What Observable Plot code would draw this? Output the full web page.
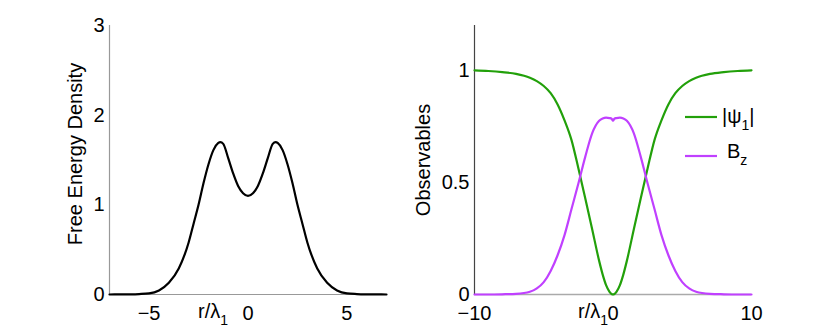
<!DOCTYPE html>
<html><head><meta charset="utf-8">
<script src="https://cdn.jsdelivr.net/npm/d3@7"></script>
<script src="https://cdn.jsdelivr.net/npm/@observablehq/plot@0.6"></script>
<style>
body{margin:0;background:#fff;}
#wrap{position:relative;width:830px;height:332px;display:flex;background:#fff;}
#wrap svg{display:block;}
</style></head><body><div id="wrap"></div>
<script>
// Left panel: free energy density
const feX = [-7,-6.5,-6,-5.5,-5,-4.5,-4,-3.5,-3,-2.75,-2.5,-2.25,-2,-1.75,-1.5,-1.4,-1.25,-1,-0.75,-0.5,-0.25,0,
             0.25,0.5,0.75,1,1.25,1.4,1.5,1.75,2,2.25,2.5,2.75,3,3.5,4,4.5,5,5.5,6,6.5,7];
const feY = [0,0.001,0.002,0.005,0.012,0.045,0.13,0.29,0.58,0.79,1.0,1.24,1.45,1.61,1.69,1.70,1.68,1.52,1.35,1.21,1.13,1.10,
             1.13,1.21,1.35,1.52,1.68,1.70,1.69,1.61,1.45,1.24,1.0,0.79,0.58,0.29,0.13,0.045,0.012,0.005,0.002,0.001,0];
const feXTicks = [-5,0,5];
const feYTicks = [0,1,2,3];

// Right panel: observables
const obsX = [-10,-9,-8,-7,-6,-5.5,-5,-4.5,-4,-3.5,-3,-2.5,-2,-1.5,-1,-0.75,-0.5,-0.25,-0.1,0,
              0.1,0.25,0.5,0.75,1,1.5,2,2.5,3,3.5,4,4.5,5,5.5,6,7,8,9,10];
const psiY = [1.0,0.997,0.992,0.984,0.967,0.952,0.93,0.898,0.848,0.777,0.69,0.563,0.428,0.29,0.15,0.09,0.042,0.012,0.002,0,
              0.002,0.012,0.042,0.09,0.15,0.29,0.428,0.563,0.69,0.777,0.848,0.898,0.93,0.952,0.967,0.984,0.992,0.997,1.0];
const bzY  = [0,0,0.001,0.003,0.012,0.027,0.055,0.105,0.175,0.265,0.38,0.495,0.615,0.72,0.775,0.785,0.789,0.787,0.784,0.775,
              0.784,0.787,0.789,0.785,0.775,0.72,0.615,0.495,0.38,0.265,0.175,0.105,0.055,0.027,0.012,0.003,0.001,0,0];
const obsXTicks = [-10,0,10];
const obsYTicks = [0,0.5,1];
const seriesNames = ["|ψ1|","Bz"];
const seriesColors = ["#22a00a","#c040ff"];

const FONT = "'Liberation Sans', Arial, sans-serif";
const fe = feX.map((x,i)=>({x, y: feY[i]}));
const obs = [];
obsX.forEach((x,i)=>{ obs.push({x, y: psiY[i], s: seriesNames[0]}); });
obsX.forEach((x,i)=>{ obs.push({x, y: bzY[i], s: seriesNames[1]}); });

const fmt = d => (d < 0 ? "\u2212" : "") + Math.abs(d);

const left = Plot.plot({
  width: 415, height: 332,
  marginLeft: 109, marginRight: 29, marginTop: 25, marginBottom: 38,
  style: {fontFamily: FONT, fontSize: "20px", color: "#000", background: "white", overflow: "visible"},
  x: {domain: [-7,7]},
  y: {domain: [0,3]},
  marks: [
    Plot.axisX({ticks: feXTicks, tickSize: 0, tickPadding: 11, label: null, tickFormat: fmt, fontSize: 20}),
    Plot.axisY({ticks: feYTicks, tickSize: 0, tickPadding: 5, label: null, tickFormat: fmt, fontSize: 20}),
    Plot.ruleY([0], {stroke: "#999", strokeWidth: 1.2}),
    Plot.ruleX([-7], {stroke: "#999", strokeWidth: 1.2}),
    Plot.line(fe, {x: "x", y: "y", curve: "monotone-x", stroke: "black", strokeWidth: 2.2})
  ]
});

const right = Plot.plot({
  width: 415, height: 332,
  marginLeft: 59, marginRight: 79, marginTop: 25, marginBottom: 38,
  style: {fontFamily: FONT, fontSize: "20px", color: "#000", background: "white", overflow: "visible"},
  x: {domain: [-10,10]},
  y: {domain: [0,1.2]},
  color: {domain: seriesNames, range: seriesColors},
  marks: [
    Plot.axisX({ticks: obsXTicks, tickSize: 0, tickPadding: 11, label: null, tickFormat: fmt, fontSize: 20}),
    Plot.axisY({ticks: obsYTicks, tickSize: 0, tickPadding: 5, label: null, tickFormat: fmt, fontSize: 20}),
    Plot.ruleY([0], {stroke: "#aaa", strokeWidth: 1.6}),
    Plot.ruleX([-10], {stroke: "#444", strokeWidth: 1.2}),
    Plot.line(obs, {x: "x", y: "y", z: "s", stroke: "s", curve: "monotone-x", strokeWidth: 2.2})
  ]
});

const wrap = document.getElementById("wrap");
wrap.appendChild(left);
wrap.appendChild(right);

function yLabel(svg, text, cx, cy) {
  d3.select(svg).append("text")
    .attr("transform", `translate(${cx},${cy}) rotate(-90)`)
    .attr("text-anchor", "middle").attr("dominant-baseline", "central")
    .attr("font-family", FONT).attr("font-size", 20).attr("fill", "#000")
    .text(text);
}
function subText(sel, x, y, main, sub, tail) {
  const t = sel.append("text").attr("x", x).attr("y", y)
    .attr("text-anchor", "start")
    .attr("font-family", FONT).attr("font-size", 20).attr("fill", "#000");
  t.append("tspan").text(main);
  t.append("tspan").attr("font-size", 14).attr("dy", 7).text(sub);
  if (tail) t.append("tspan").attr("dy", -7).text(tail);
  return t;
}
yLabel(left, "Free Energy Density", 75, 154);
yLabel(right, "Observables", 8, 160);

subText(d3.select(left), 198, 318, "r/λ", "1");
subText(d3.select(right), 578 - 415, 318, "r/λ", "1");

// legend
const lg = d3.select(right).append("g");
const legY = [117, 156];
seriesNames.forEach((n, i) => {
  lg.append("line").attr("x1", 270).attr("x2", 302).attr("y1", legY[i]).attr("y2", legY[i])
    .attr("stroke", seriesColors[i]).attr("stroke-width", 2.2);
});
subText(lg, 307, 123, "|ψ", "1", "|");
subText(lg, 312, 158, "B", "z");
</script>
</body></html>
